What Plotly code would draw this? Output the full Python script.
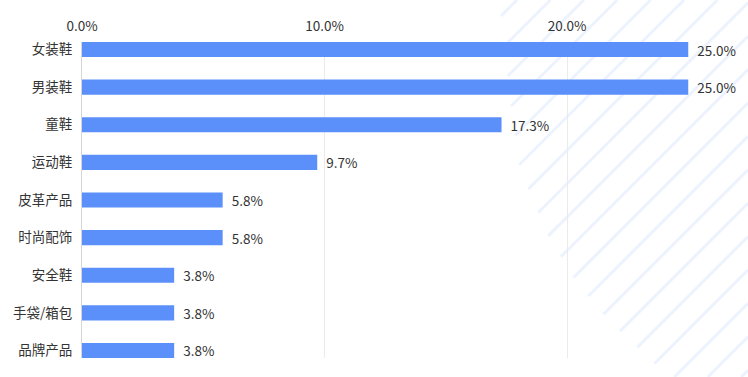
import numpy as np
import plotly.graph_objects as go

categories = ["女装鞋", "男装鞋", "童鞋", "运动鞋", "皮革产品", "时尚配饰", "安全鞋", "手袋/箱包", "品牌产品"]
values = [25.0, 25.0, 17.3, 9.7, 5.8, 5.8, 3.8, 3.8, 3.8]
tick_vals = [0, 10, 20]
tick_text = ["0.0%", "10.0%", "20.0%"]

W, H = 748, 377
ML, MR, MT, MB = 82, 0, 42, 19
FONT = "Noto Sans CJK SC, Noto Sans, sans-serif"
FS = 13.5

fig = go.Figure()
fig.add_trace(go.Bar(
    y=categories,
    x=values,
    orientation="h",
    marker=dict(color="#5B8FF9", line=dict(width=0)),
    text=["\u00a0\u00a0" + f"{v:.1f}%" for v in values],
    textposition="outside",
    constraintext="none",
    textfont=dict(size=FS, color="#333333", family=FONT),
    cliponaxis=False,
    hoverinfo="skip",
))

# decorative diagonal stripes (background pattern, top-right)
pw, ph = W - ML - MR, H - MT - MB
def to_paper(px, py):
    return (px - ML) / pw, 1 - (py - MT) / ph

bnd = np.array([(498, 0), (503, 25), (510, 100), (520, 170), (530, 193), (550, 240),
                (563, 260), (575, 280), (590, 298), (605, 316), (622, 333), (638, 348),
                (656, 365), (672, 377)], dtype=float)
bsum = bnd[:, 0] + bnd[:, 1]
shapes = []
c = 517 - 33.4
while c < W + H:
    if c < bsum[0]:
        c += 33.4
        continue
    if c <= bsum[-1]:
        sx = np.interp(c, bsum, bnd[:, 0])
        sy = c - sx
    else:
        sy = H
        sx = c - H
        if sx > W:
            break
    ex = min(c, W)
    ey = c - ex
    x0, y0 = to_paper(sx, sy)
    x1, y1 = to_paper(ex, ey)
    shapes.append(dict(type="line", xref="paper", yref="paper", x0=x0, y0=y0, x1=x1, y1=y1,
                       line=dict(color="rgba(91,143,249,0.11)", width=3), layer="below"))
    c += 33.4

fig.update_layout(
    width=W, height=H,
    margin=dict(l=ML, r=MR, t=MT, b=MB, pad=0),
    paper_bgcolor="white", plot_bgcolor="rgba(0,0,0,0)",
    bargap=0.6,
    showlegend=False,
    shapes=shapes,
    font=dict(family=FONT, size=FS, color="#333333"),
    xaxis=dict(
        side="top", range=[0, pw / 24.25],
        tickvals=tick_vals, ticktext=tick_text,
        showgrid=True, gridcolor="#ebebeb", gridwidth=1,
        zeroline=False, showline=False,
        ticks="outside", ticklen=5, tickcolor="rgba(0,0,0,0)",
        tickfont=dict(size=FS, color="#333333", family=FONT),
        fixedrange=True, automargin=False,
    ),
    yaxis=dict(
        type="category", range=[8.2, -0.2],
        showgrid=False, zeroline=False,
        showline=True, linecolor="#d6d6d6", linewidth=1,
        ticks="outside", ticklen=6, tickcolor="rgba(0,0,0,0)",
        tickfont=dict(size=FS, color="#333333", family=FONT),
        fixedrange=True, automargin=False,
    ),
)

fig.write_html("out.html", config={"displayModeBar": False, "staticPlot": True},
               post_script="document.body.style.margin='0';document.body.style.padding='0';")
